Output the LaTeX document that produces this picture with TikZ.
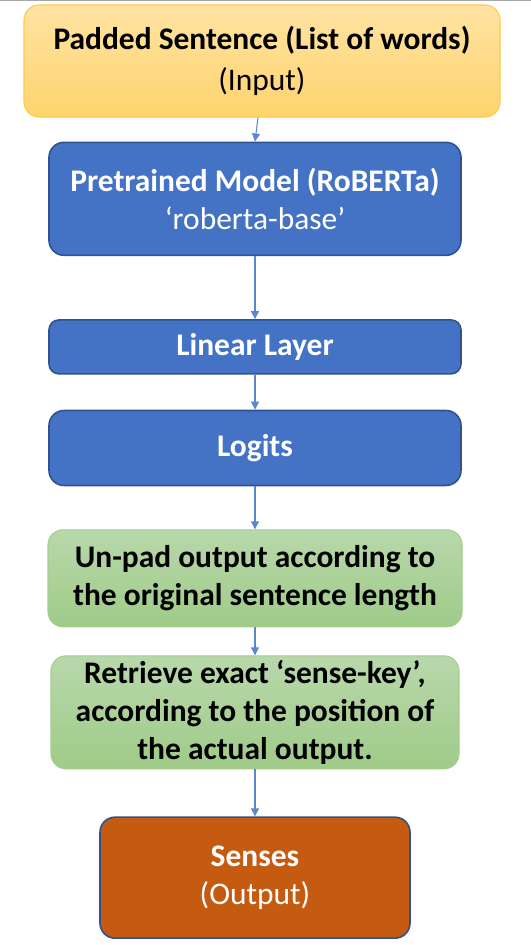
\documentclass[tikz,border=0pt]{standalone}
\usepackage{fontspec}
\setmainfont{Carlito}
\usepackage{xcolor}
\usepackage{tikz}
\usetikzlibrary{positioning,arrows.meta}

\definecolor{yellowtop}{HTML}{FFE3A3}
\definecolor{yellowbot}{HTML}{FFD46E}
\definecolor{yellowedge}{HTML}{FFC94A}
\definecolor{bluefill}{HTML}{4472C4}
\definecolor{blueedge}{HTML}{2F528F}
\definecolor{greentop}{HTML}{B8D8AB}
\definecolor{greenbot}{HTML}{9FCB88}
\definecolor{greenedge}{HTML}{A3CE8C}
\definecolor{orangefill}{HTML}{C55A11}
\definecolor{arrowblue}{HTML}{5B87D2}

\begin{document}
\begin{tikzpicture}[
    block/.style={rectangle, rounded corners=0.3cm, minimum width=8.24cm, align=center, inner sep=0pt, font=\fontsize{17.9}{21.8}\selectfont\bfseries},
    inbox/.style={block, draw=yellowedge, line width=0.6pt, top color=yellowtop, bottom color=yellowbot, text=black},
    bluebox/.style={block, draw=blueedge, line width=0.9pt, fill=bluefill, text=white},
    greenbox/.style={block, draw=greenedge, line width=0.6pt, top color=greentop, bottom color=greenbot, text=black},
    outbox/.style={block, draw=blueedge, line width=0.9pt, fill=orangefill, text=white},
    arrow/.style={-{Triangle[length=0.16cm, width=0.16cm]}, draw=arrowblue, line width=0.6pt}
]
\useasboundingbox (0,0) rectangle (10.62,-18.9);
\draw[gray!70, line width=0.8pt] (0,-0.01) -- (10.62,-0.01);

% Input (top)
\node[inbox, minimum width=9.52cm, minimum height=2.24cm, font=\fontsize{17.9}{23}\selectfont\bfseries] (input) at (5.24,-1.22) {Padded Sentence (List of words)\\\mdseries (Input)};

% Model and layers (blue)
\node[bluebox, minimum height=2.26cm, below=0.48cm of input, xshift=-0.14cm] (roberta) {Pretrained Model (RoBERTa)\\\mdseries ‘roberta-base’};
\node[bluebox, minimum height=1.08cm, rounded corners=0.2cm, below=1.26cm of roberta] (linear) {Linear Layer};
\node[bluebox, minimum height=1.5cm, below=0.70cm of linear] (logits) {Logits};

% Post-processing (green)
\node[greenbox, minimum width=8.28cm, minimum height=1.94cm, below=0.86cm of logits] (unpad) {Un-pad output according to\\the original sentence length};
\node[greenbox, minimum width=8.16cm, minimum height=2.26cm, below=0.56cm of unpad] (retrieve) {Retrieve exact ‘sense-key’,\\according to the position of\\the actual output.};

% Output (bottom)
\node[outbox, minimum width=6.2cm, minimum height=2.42cm, below=0.94cm of retrieve] (senses) {Senses\\\mdseries (Output)};

\draw[arrow] (input.south) ++(-0.08,0) -- (roberta.north);
\draw[arrow] (roberta) -- (linear);
\draw[arrow] (linear) -- (logits);
\draw[arrow] (logits) -- (unpad);
\draw[arrow] (unpad) -- (retrieve);
\draw[arrow] (retrieve) -- (senses);

\end{tikzpicture}
\end{document}
